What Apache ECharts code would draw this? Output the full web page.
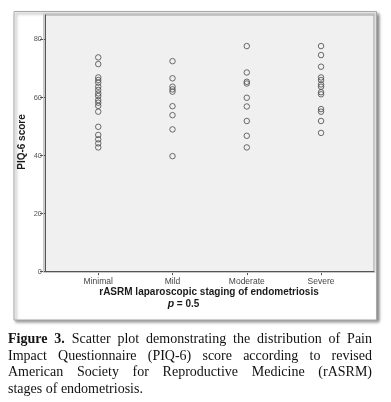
<!DOCTYPE html>
<html>
<head>
<meta charset="utf-8">
<script src="https://cdn.jsdelivr.net/npm/echarts@6/dist/echarts.min.js"></script>
<style>
  html, body { margin: 0; padding: 0; background: #fff; }
  #wrap { position: relative; width: 391px; height: 402px; overflow: hidden; }
  #chart { position: absolute; left: 0; top: 0; width: 391px; height: 402px; }
  #caption { position: absolute; left: 8px; top: 331px; width: 364px;
    font-family: "Liberation Serif", "DejaVu Serif", serif; font-size: 14px; line-height: 16.7px; color: #111; }
  #caption div { text-align: justify; text-align-last: justify; white-space: nowrap; }
  #caption div.last { text-align-last: left; }
</style>
</head>
<body>
<div id="wrap">
  <div id="chart"></div>
  <div id="caption">
    <div><b>Figure 3.</b> Scatter plot demonstrating the distribution of Pain</div>
    <div>Impact Questionnaire (PIQ-6) score according to revised</div>
    <div>American Society for Reproductive Medicine (rASRM)</div>
    <div class="last">stages of endometriosis.</div>
  </div>
</div>
<script>
const categories = ['Minimal', 'Mild', 'Moderate', 'Severe'];
const minimalScores = [73.8, 71.5, 66.9, 66.0, 65.1, 63.7, 62.6, 61.4, 60.5, 59.1, 58.2, 57.1, 55.1, 49.9, 47.1, 45.6, 44.2, 42.8];
const mildScores = [72.5, 66.6, 63.7, 62.8, 62.0, 57.0, 53.9, 49.0, 39.8];
const moderateScores = [77.7, 68.6, 65.4, 64.8, 59.9, 56.9, 51.9, 46.8, 42.8];
const severeScores = [77.7, 74.6, 70.6, 66.9, 66.0, 64.5, 63.7, 61.8, 61.1, 56.0, 55.1, 51.9, 47.8];
const yTicks = [0, 20, 40, 60, 80];
const xTicks = [1, 2, 3, 4];

const groups = [minimalScores, mildScores, moderateScores, severeScores];
const points = [];
groups.forEach((g, i) => g.forEach(v => points.push([i + 1, v])));

const chart = echarts.init(document.getElementById('chart'), null, { renderer: 'canvas' });
const labelFont = 'Liberation Sans, Arial, sans-serif';
chart.setOption({
  animation: false,
  backgroundColor: 'transparent',
  graphic: [
    {
      type: 'rect', z: -10, silent: true,
      shape: { x: 14, y: 11.5, width: 362.5, height: 308.5 },
      style: { fill: '#fff', stroke: '#a8a8a8', lineWidth: 1,
        shadowBlur: 3, shadowOffsetX: 2, shadowOffsetY: 2, shadowColor: 'rgba(0,0,0,0.45)' }
    },
    {
      type: 'rect', z: 5, silent: true,
      shape: { x: 43.5, y: 13.5, width: 331.5, height: 259 },
      style: { fill: 'none', stroke: '#c8c8c8', lineWidth: 1 }
    },
    {
      type: 'text', z: 10, silent: true,
      x: 22, y: 142, rotation: Math.PI / 2,
      style: { text: 'PIQ-6 score', font: 'bold 10px ' + labelFont, fill: '#1a1a1a',
        align: 'center', verticalAlign: 'middle' }
    },
    {
      type: 'text', z: 10, silent: true,
      x: 209, y: 292.5,
      style: { text: 'rASRM laparoscopic staging of endometriosis', font: 'bold 10px ' + labelFont,
        fill: '#1a1a1a', align: 'center', verticalAlign: 'middle' }
    },
    {
      type: 'text', z: 10, silent: true,
      x: 183.5, y: 304,
      style: {
        text: '{i|p} = 0.5',
        font: 'bold 10px ' + labelFont, fill: '#1a1a1a', align: 'center', verticalAlign: 'middle',
        rich: { i: { fontStyle: 'italic', fontWeight: 'bold', fontSize: 10.5, fontFamily: labelFont, fill: '#1a1a1a' } }
      }
    }
  ],
  grid: {
    left: 45, right: 17, top: 15, bottom: 130.3,
    show: true, backgroundColor: '#f0f0f0', borderColor: '#9a9a9a', borderWidth: 1
  },
  xAxis: {
    type: 'value', min: 0.283, max: 4.713,
    splitLine: { show: false },
    axisLine: { show: true, onZero: false, lineStyle: { color: '#555', width: 1 } },
    axisTick: { show: true, length: 3.5, customValues: xTicks, lineStyle: { color: '#555' } },
    axisLabel: {
      customValues: xTicks, margin: 5, fontSize: 8.5, color: '#444', fontFamily: labelFont,
      formatter: v => categories[Math.round(v) - 1] || ''
    }
  },
  yAxis: {
    type: 'value', min: 0, max: 88.4,
    splitLine: { show: false },
    axisLine: { show: true, onZero: false, lineStyle: { color: '#555', width: 1 } },
    axisTick: { show: true, length: 5, customValues: yTicks, lineStyle: { color: '#555' } },
    axisLabel: { customValues: yTicks, margin: 3, fontSize: 7.5, color: '#555', fontFamily: labelFont }
  },
  series: [{
    type: 'scatter',
    data: points,
    symbol: 'circle',
    symbolSize: 5.5,
    itemStyle: { color: 'rgba(0,0,0,0)', borderColor: '#4a4a4a', borderWidth: 1 }
  }]
});
</script>
</body>
</html>
